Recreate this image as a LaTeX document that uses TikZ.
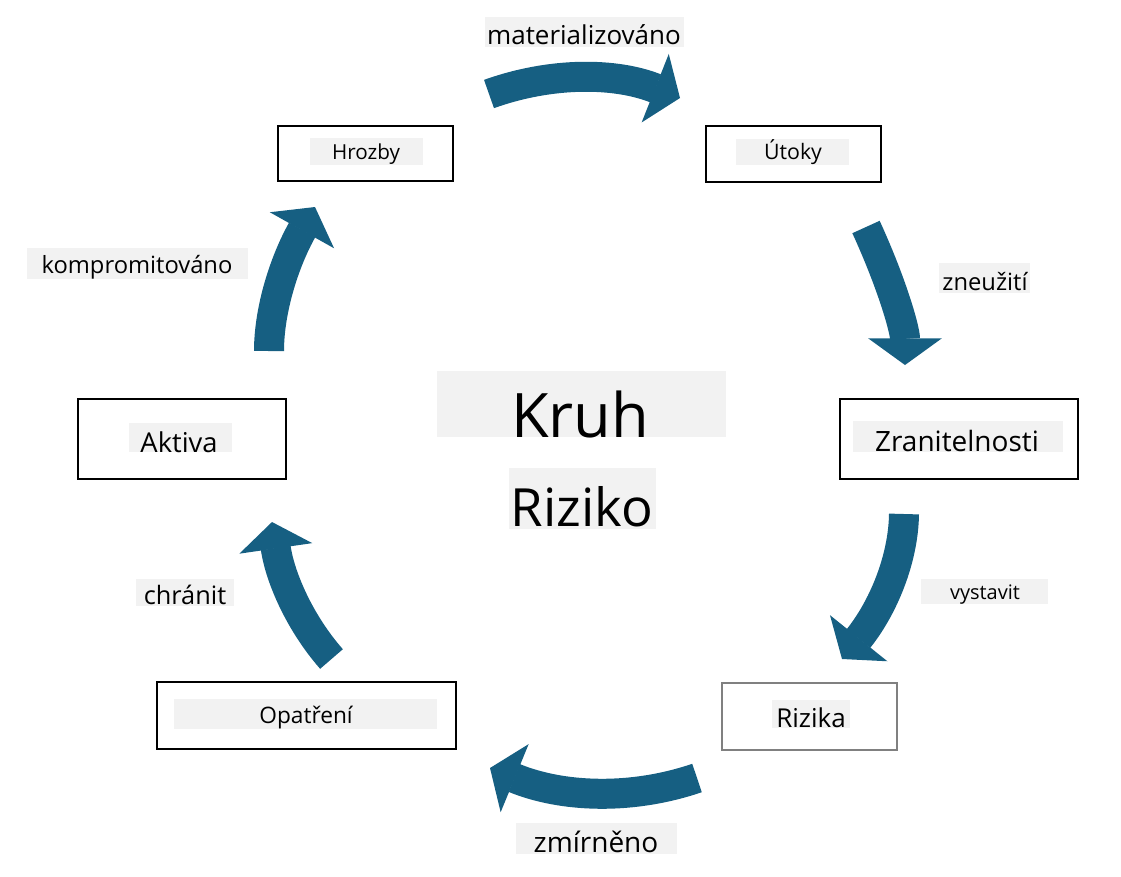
\documentclass[tikz,border=0pt]{standalone}
\usepackage{fontspec}
\setmainfont{Open Sans}
\usetikzlibrary{arrows.meta,calc}
\definecolor{arrowblue}{RGB}{22,95,130}
\definecolor{labelbg}{RGB}{242,242,242}
\tikzset{
  box/.style={draw=black, line width=1pt},
  softbox/.style={draw=gray, line width=1pt},
  bg/.style={fill=labelbg},
  txt/.style={anchor=base, inner sep=0pt, text=black},
  bigarrow/.style={draw=arrowblue, line width=22.5pt, line cap=butt,
    -{Triangle[width=55pt,length=20pt,line width=1.5pt,fill=arrowblue,color=arrowblue]}},
}
\newcommand{\fsz}[1]{\fontsize{#1}{#1}\selectfont}
\newcommand{\curvearrow}[3]{%
  \draw[bigarrow] (#1) .. controls ($(#1)!0.6667!(#2)$) and ($(#3)!0.6667!(#2)$) .. (#3);}
\begin{document}
\begin{tikzpicture}[x=0.75pt,y=-0.75pt]
\useasboundingbox (0,0) rectangle (1121,876);

% boxes
\draw[box] (278,126) rectangle (453,181);
\draw[box] (706,126) rectangle (881,182);
\draw[box] (840,399) rectangle (1078,479);
\draw[softbox] (722,683) rectangle (897,750);
\draw[box] (157,682) rectangle (456,749);
\draw[box] (78,399) rectangle (286,479);

% grey label backgrounds
\fill[bg] (310,138) rectangle (423,165);
\fill[bg] (736,139) rectangle (849,165);
\fill[bg] (853,421) rectangle (1063,452);
\fill[bg] (772,700) rectangle (850,728);
\fill[bg] (174,699) rectangle (437,729);
\fill[bg] (129,423) rectangle (232,452);
\fill[bg] (485,17) rectangle (684,47);
\fill[bg] (939,263) rectangle (1030,293);
\fill[bg] (921,579) rectangle (1048,604);
\fill[bg] (516,823) rectangle (677,854);
\fill[bg] (136,579) rectangle (234,606);
\fill[bg] (27,248) rectangle (248,279);
\fill[bg] (437,371) rectangle (726,437);
\fill[bg] (509,468) rectangle (656,529);

% node texts
\node[txt] (hrozby) at (366,159) {\fsz{15.5pt}Hrozby};
\node[txt] (utoky) at (793,159) {\fsz{16pt}Útoky};
\node[txt] (zranit) at (957,451) {\fsz{21pt}Zranitelnosti};
\node[txt] (rizika) at (811,727) {\fsz{19.5pt}Rizika};
\node[txt] (opatreni) at (306,723) {\fsz{17pt}Opatření};
\node[txt] (aktiva) at (179,452) {\fsz{20.5pt}Aktiva};
\node[txt] (kruh) at (580,437) {\fsz{46pt}Kruh};
\node[txt] (riziko) at (582,526) {\fsz{39.5pt}Riziko};

% arrow labels
\node[txt] (lmat) at (584,44) {\fsz{19.5pt}materializováno};
\node[txt] (lzne) at (985,290) {\fsz{17.8pt}zneužití};
\node[txt] (lvys) at (985,599) {\fsz{15pt}vystavit};
\node[txt] (lzmi) at (596,852) {\fsz{21pt}zmírněno};
\node[txt] (lchr) at (185,604) {\fsz{19pt}chránit};
\node[txt] (lkom) at (137,273) {\fsz{17.8pt}kompromitováno};

% arrow geometry
\coordinate (a1s) at (489,94);   \coordinate (a1c) at (584,60);  \coordinate (a1e) at (680,98);
\coordinate (a2s) at (866,227);  \coordinate (a2c) at (905,312); \coordinate (a2e) at (905,365);
\coordinate (a3s) at (904,514);  \coordinate (a3c) at (903,583); \coordinate (a3e) at (842,659);
\coordinate (a4s) at (697,778);  \coordinate (a4c) at (597,812); \coordinate (a4e) at (490,768);
\coordinate (a5s) at (331.5,659);\coordinate (a5c) at (284,605); \coordinate (a5e) at (272,522);
\coordinate (a6s) at (269,351);  \coordinate (a6c) at (269,289); \coordinate (a6e) at (315,207);

\curvearrow{a1s}{a1c}{a1e}
\curvearrow{a2s}{a2c}{a2e}
\curvearrow{a3s}{a3c}{a3e}
\curvearrow{a4s}{a4c}{a4e}
\curvearrow{a5s}{a5c}{a5e}
\curvearrow{a6s}{a6c}{a6e}
\end{tikzpicture}
\end{document}
